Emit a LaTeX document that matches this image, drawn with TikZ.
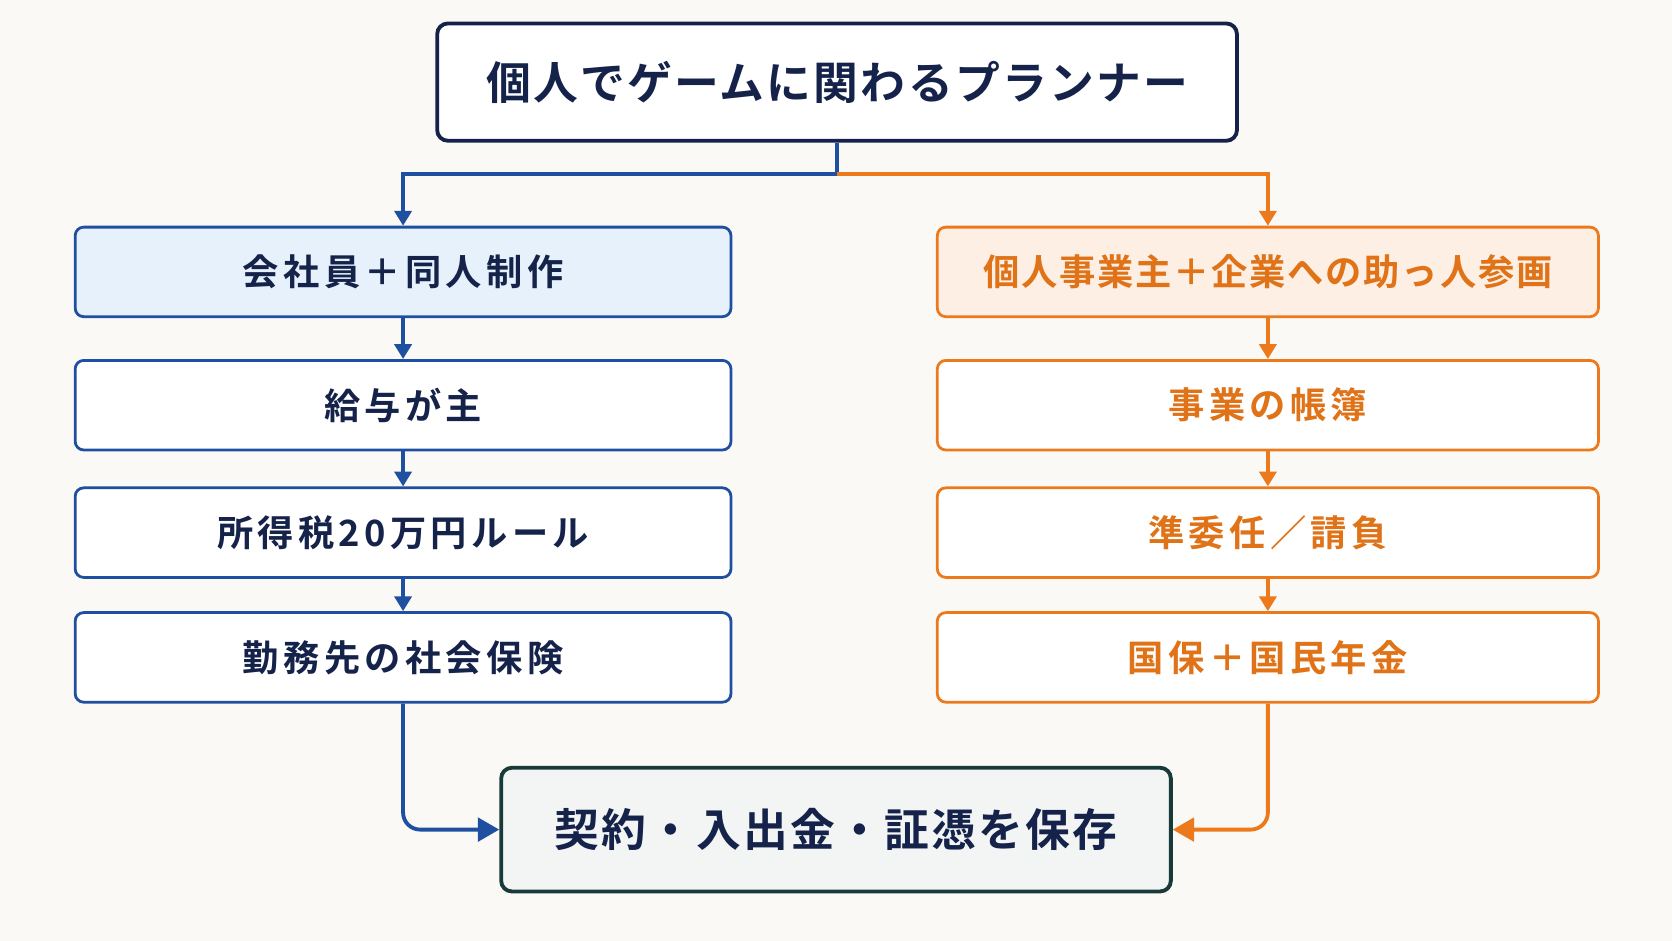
\documentclass[tikz,border=0pt]{standalone}
\usepackage{fontspec}
\setmainfont{Noto Sans CJK JP}[BoldFont={* Bold}]
\usetikzlibrary{arrows.meta}
\definecolor{bg}{HTML}{FAF9F5}
\definecolor{navy}{HTML}{15234A}
\definecolor{blu}{HTML}{1E4FA0}
\definecolor{lblu}{HTML}{E6F1FC}
\definecolor{lorg}{HTML}{FDEFE4}
\definecolor{org}{HTML}{EC7A1C}
\definecolor{orgt}{HTML}{E07318}
\definecolor{teal}{HTML}{183A38}
\newcommand{\myLS}[1]{\addfontfeatures{LetterSpace=#1}}
\tikzset{
 lb/.style={draw=blu,line width=1.3pt,rounded corners=4pt,fill=white,minimum width=307.5pt,minimum height=42pt,text=navy,font=\bfseries\fontsize{17}{20}\selectfont\myLS{12}},
 rb/.style={draw=org,line width=1.3pt,rounded corners=4pt,fill=white,minimum width=310pt,minimum height=42pt,text=orgt,font=\bfseries\fontsize{17}{20}\selectfont\myLS{12}},
 ba/.style={draw=blu,line width=1.8pt,-{Triangle[length=7pt,width=8pt]}},
 oa/.style={draw=org,line width=1.8pt,-{Triangle[length=7pt,width=8pt]}},
 big/.style={-{Triangle[length=10pt,width=11pt]}},
}
\begin{document}
\begin{tikzpicture}[x=0.5pt,y=-0.5pt]
\fill[bg] (0,0) rectangle (1568,882);
\useasboundingbox (0,0) rectangle (1568,882);
\node[draw=navy,line width=1.8pt,rounded corners=5pt,fill=white,minimum width=375pt,minimum height=55pt,text=navy,font=\bfseries\fontsize{21}{24}\selectfont\myLS{5}] (top) at (785,77) {個人でゲームに関わるプランナー};
\node[lb,fill=lblu] (l1) at (378,255) {会社員＋同人制作};
\node[lb] (l2) at (378,380) {給与が主};
\node[lb] (l3) at (378,499.5) {所得税20万円ルール};
\node[lb] (l4) at (378,616.5) {勤務先の社会保険};
\node[rb,fill=lorg,font=\bfseries\fontsize{17}{20}\selectfont\myLS{5}] (r1) at (1189,255) {個人事業主＋企業への助っ人参画};
\node[rb] (r2) at (1189,380) {事業の帳簿};
\node[rb] (r3) at (1189,499.5) {準委任／請負};
\node[rb] (r4) at (1189,616.5) {国保＋国民年金};
\node[draw=teal,line width=1.8pt,rounded corners=5pt,fill=teal!5,minimum width=314pt,minimum height=58pt,text=navy,font=\bfseries\fontsize{21}{24}\selectfont\myLS{5}] (bot) at (784,778) {契約・入出金・証憑を保存};
\coordinate (j) at (785,163);
\draw[ba] (top.south) -- (j) -| (l1.north);
\draw[oa] (j) -| (r1.north);
\draw[ba] (l1) -- (l2); \draw[ba] (l2) -- (l3); \draw[ba] (l3) -- (l4);
\draw[oa] (r1) -- (r2); \draw[oa] (r2) -- (r3); \draw[oa] (r3) -- (r4);
\draw[ba,big,rounded corners=8pt] (l4.south) |- (bot.west);
\draw[oa,big,rounded corners=8pt] (r4.south) |- (bot.east);
\end{tikzpicture}
\end{document}
